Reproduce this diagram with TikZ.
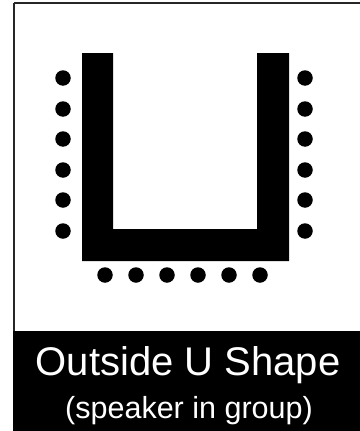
\documentclass[tikz,border=0pt]{standalone}
\usepackage{fontspec}
\setmainfont{Liberation Sans}
\begin{document}
\begin{tikzpicture}[x=1pt,y=-1pt,
  seat/.style={circle,fill=black,inner sep=0pt,minimum size=15.5pt},
  title/.style={text=white,inner sep=0pt,anchor=base},
  table/.style={fill=black}]
\useasboundingbox (0,0) rectangle (359,431);
\fill[white] (0,0) rectangle (359,431);
% frame
\draw[line width=2pt,black!85] (14,3) -- (360,3);
\draw[line width=2pt,black!85] (14,3) -- (14,432);
% bottom band
\fill[black] (13,331) rectangle (360,432);
% U table
\fill[table] (82,53) -- (113,53) -- (113,229) -- (257,229) -- (257,53) -- (289,53) -- (289,261) -- (82,261) -- cycle;
% seats left
\foreach \i/\y in {1/78,2/109,3/139,4/170,5/200,6/231}{
  \node[seat] (l\i) at (63,\y) {};
  \node[seat] (r\i) at (305,\y) {};
}
\foreach \i/\x in {1/105,2/136,3/167,4/198,5/229,6/260}{
  \node[seat] (b\i) at (\x,275) {};
}
\node[title,font=\fontsize{40}{44}\selectfont] (t1) at (188,375) {Outside U Shape};
\node[title,font=\fontsize{30.5}{34}\selectfont] (t2) at (189,418) {(speaker in group)};
\end{tikzpicture}
\end{document}
